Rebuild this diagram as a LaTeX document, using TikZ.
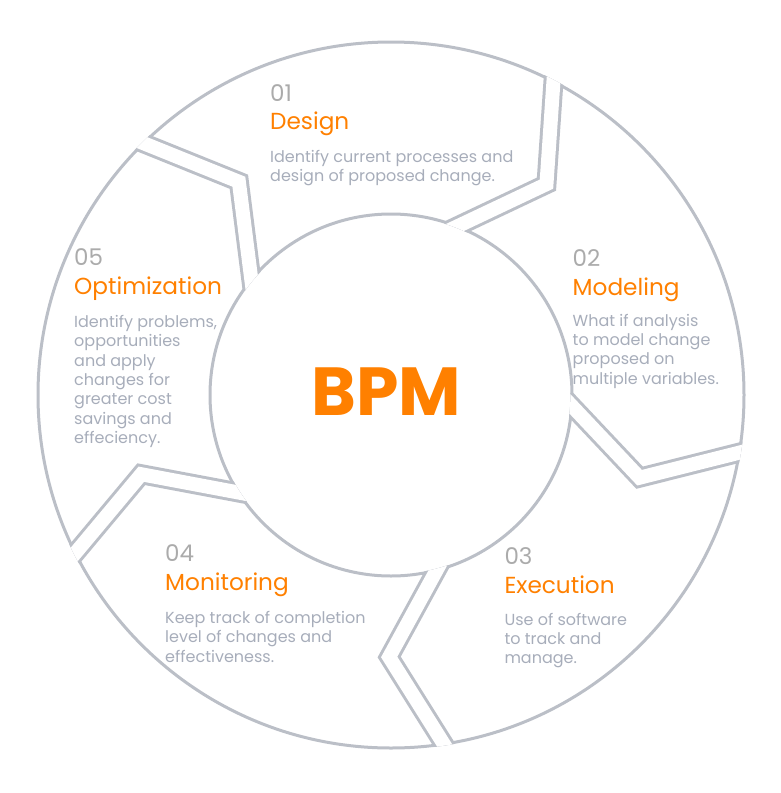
\documentclass[tikz,border=0pt]{standalone}
\usepackage{fontspec}
\setmainfont{Poppins}
\usetikzlibrary{calc}
\definecolor{ringc}{HTML}{BBBFC7}
\definecolor{numc}{HTML}{ABABAB}
\definecolor{titlec}{HTML}{FF8000}
\definecolor{descc}{HTML}{A7ADBA}
\tikzset{
  ring/.style={draw=ringc, line width=3pt},
  gapline/.style={draw=ringc, line width=3pt, double=white, double distance=14pt, line join=miter, shorten <=-10pt, shorten >=-10pt},
  numtxt/.style={text=numc, font=\fontsize{23}{23}\selectfont, inner sep=0pt, anchor=base west},
  titletxt/.style={text=titlec, font=\fontsize{23.2}{23.2}\selectfont, inner sep=0pt, anchor=base west},
  desctxt/.style={text=descc, font=\fontsize{16}{16}\selectfont, inner sep=0pt, anchor=base west},
  bigtxt/.style={text=titlec, font=\fontsize{68}{68}\selectfont\bfseries, inner sep=0pt, anchor=base west}
}
\newcommand{\descblock}[4]{%
  \foreach \ln [count=\i] in {#4} {
    \node[desctxt] (#1-\i) at (#2, {#3+19.4*(\i-1)}) {\ln};
  }%
}
\begin{document}
\begin{tikzpicture}[x=1pt,y=-1pt]
\useasboundingbox (0,0) rectangle (780,793);
\coordinate (C) at (391,395);
\draw[ring] (C) circle[radius=353pt];
\draw[ring] (C) circle[radius=181pt];
\begin{scope}[even odd rule]
  \clip (C) circle[radius=354.6pt] (C) circle[radius=179.4pt];
  \foreach \p in {134.5, 62.6, -9.4, -81.4, 206.6} {
    \draw[gapline] ($(C)+(\p:353pt)$) -- ($(C)+(\p-9:262pt)$) -- ($(C)+(\p+6:181pt)$);
  }
\end{scope}

\node[bigtxt] (bpm) at (311.5,415) {BPM};

\node[numtxt] (n1) at (270,101.7) {01};
\node[titletxt] (t1) at (270,129.3) {Design};
\descblock{d1}{270}{162.3}{Identify current processes and, design of proposed change.}

\node[numtxt] (n2) at (572.5,266) {02};
\node[titletxt] (t2) at (572.5,295) {Modeling};
\descblock{d2}{572.5}{326}{What if analysis, to model change, proposed on, multiple variables.}

\node[numtxt] (n3) at (504.3,564.3) {03};
\node[titletxt] (t3) at (504.3,593.3) {Execution};
\descblock{d3}{504.3}{625}{Use of software, to track and, manage.}

\node[numtxt] (n4) at (165,561.7) {04};
\node[titletxt] (t4) at (165,590) {Monitoring};
\descblock{d4}{165}{623.3}{Keep track of completion, level of changes and, effectiveness.}

\node[numtxt] (n5) at (74,265) {05};
\node[titletxt] (t5) at (74,294.3) {Optimization};
\descblock{d5}{74}{327.3}{Identify problems{,}, opportunities, and apply, changes for, greater cost, savings and, effeciency.}
\end{tikzpicture}
\end{document}
